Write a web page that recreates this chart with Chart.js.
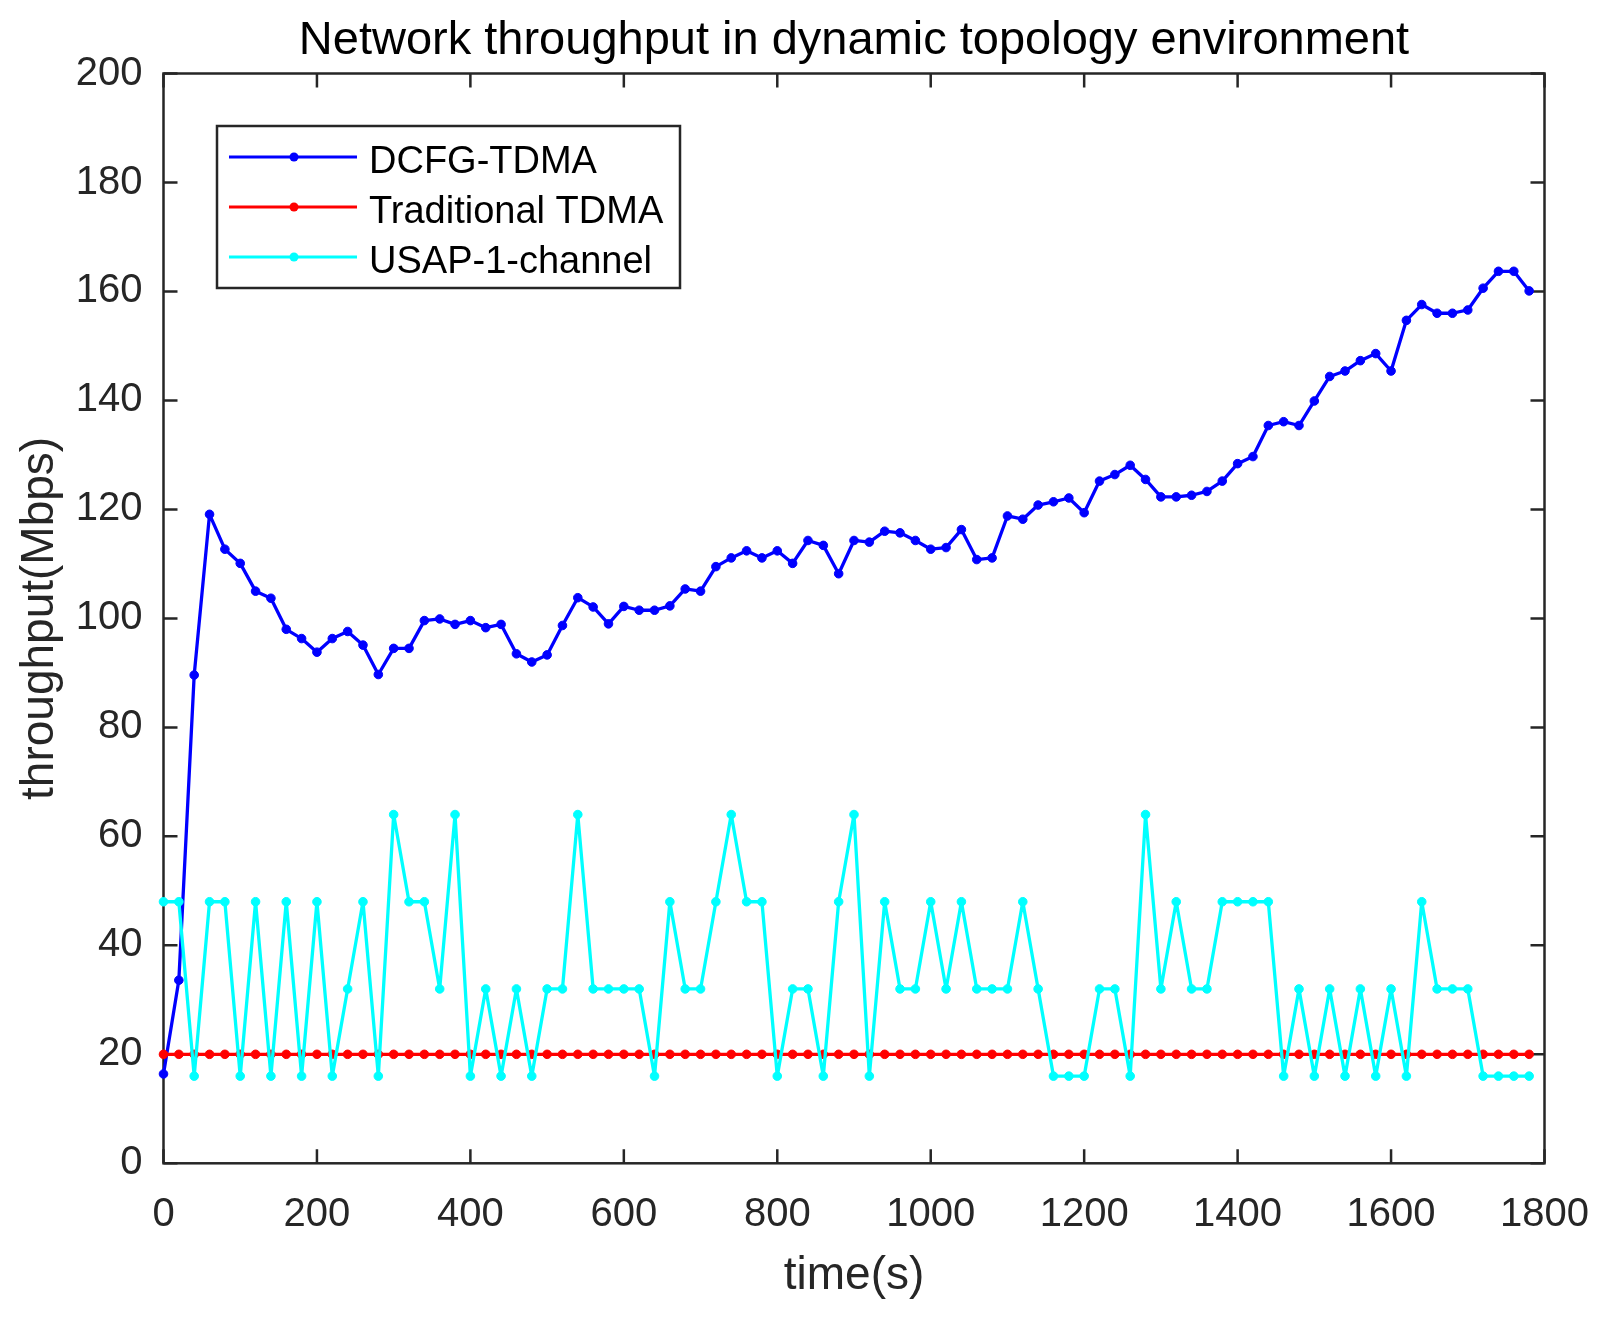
<!DOCTYPE html>
<html lang="en">
<head>
    <meta charset="UTF-8">
    <title>Network throughput in dynamic topology environment</title>
    <script src="https://cdn.jsdelivr.net/npm/chart.js"></script>
    <style>
        html, body { margin: 0; padding: 0; background: #fff; }
        #wrap { width: 1603px; height: 1320px; }
    </style>
</head>
<body>
    <div id="wrap"><canvas id="myChart" width="1603" height="1320"></canvas></div>

    <script>
        const times = [
            0, 20, 40, 60, 80, 100, 120, 140, 160, 180,
            200, 220, 240, 260, 280, 300, 320, 340, 360, 380,
            400, 420, 440, 460, 480, 500, 520, 540, 560, 580,
            600, 620, 640, 660, 680, 700, 720, 740, 760, 780,
            800, 820, 840, 860, 880, 900, 920, 940, 960, 980,
            1000, 1020, 1040, 1060, 1080, 1100, 1120, 1140, 1160, 1180,
            1200, 1220, 1240, 1260, 1280, 1300, 1320, 1340, 1360, 1380,
            1400, 1420, 1440, 1460, 1480, 1500, 1520, 1540, 1560, 1580,
            1600, 1620, 1640, 1660, 1680, 1700, 1720, 1740, 1760, 1780
        ];

        const dcfgTdma = [
            16.4, 33.6, 89.6, 119.1, 112.7, 110.1, 105.0, 103.7, 98.0, 96.3,
            93.8, 96.3, 97.6, 95.1, 89.7, 94.5, 94.5, 99.6, 99.9, 98.9,
            99.6, 98.3, 98.9, 93.5, 92.0, 93.3, 98.7, 103.8, 102.1, 99.0,
            102.2, 101.5, 101.5, 102.3, 105.4, 105.0, 109.5, 111.1, 112.4, 111.1,
            112.4, 110.1, 114.3, 113.4, 108.2, 114.3, 114.0, 116.0, 115.7, 114.3,
            112.7, 113.0, 116.3, 110.8, 111.1, 118.8, 118.2, 120.8, 121.4, 122.1,
            119.4, 125.2, 126.4, 128.1, 125.5, 122.3, 122.3, 122.6, 123.3, 125.2,
            128.4, 129.7, 135.4, 136.1, 135.4, 139.9, 144.4, 145.4, 147.3, 148.6,
            145.4, 154.7, 157.6, 156.0, 156.0, 156.6, 160.6, 163.7, 163.7, 160.1
        ];

        const traditionalTdma = [
            20, 20, 20, 20, 20, 20, 20, 20, 20, 20,
            20, 20, 20, 20, 20, 20, 20, 20, 20, 20,
            20, 20, 20, 20, 20, 20, 20, 20, 20, 20,
            20, 20, 20, 20, 20, 20, 20, 20, 20, 20,
            20, 20, 20, 20, 20, 20, 20, 20, 20, 20,
            20, 20, 20, 20, 20, 20, 20, 20, 20, 20,
            20, 20, 20, 20, 20, 20, 20, 20, 20, 20,
            20, 20, 20, 20, 20, 20, 20, 20, 20, 20,
            20, 20, 20, 20, 20, 20, 20, 20, 20, 20
        ];

        const usap1Channel = [
            48, 48, 16, 48, 48, 16, 48, 16, 48, 16,
            48, 16, 32, 48, 16, 64, 48, 48, 32, 64,
            16, 32, 16, 32, 16, 32, 32, 64, 32, 32,
            32, 32, 16, 48, 32, 32, 48, 64, 48, 48,
            16, 32, 32, 16, 48, 64, 16, 48, 32, 32,
            48, 32, 48, 32, 32, 32, 48, 32, 16, 16,
            16, 32, 32, 16, 64, 32, 48, 32, 32, 48,
            48, 48, 48, 16, 32, 16, 32, 16, 32, 16,
            32, 16, 48, 32, 32, 32, 16, 16, 16, 16
        ];

        const seriesNames = ['DCFG-TDMA', 'Traditional TDMA', 'USAP-1-channel'];
        const seriesColors = ['#0000ff', '#ff0000', '#00ffff'];
        const xTicks = [0, 200, 400, 600, 800, 1000, 1200, 1400, 1600, 1800];
        const yTicks = [0, 20, 40, 60, 80, 100, 120, 140, 160, 180, 200];

        const FONT = '"Liberation Sans", Arial, Helvetica, sans-serif';
        const AXIS_COLOR = '#262626';

        function toPoints(values) {
            return values.map((v, i) => ({ x: times[i], y: v }));
        }

        function makeDataset(idx, values) {
            return {
                label: seriesNames[idx],
                data: toPoints(values),
                borderColor: seriesColors[idx],
                backgroundColor: seriesColors[idx],
                pointBackgroundColor: seriesColors[idx],
                pointBorderColor: seriesColors[idx],
                borderWidth: 3.3,
                borderJoinStyle: 'round',
                pointRadius: 4.3,
                pointBorderWidth: 1,
                tension: 0,
                clip: false,
                order: 3 - idx // later series drawn on top, like MATLAB
            };
        }

        // box around the plot area with inward ticks on all four sides
        const boxPlugin = {
            id: 'boxPlugin',
            beforeDatasetsDraw(chart) {
                const { ctx, chartArea: a, scales } = chart;
                const len = 14;
                ctx.save();
                ctx.strokeStyle = AXIS_COLOR;
                ctx.lineWidth = 2.5;
                ctx.strokeRect(a.left, a.top, a.right - a.left, a.bottom - a.top);
                ctx.beginPath();
                xTicks.forEach(v => {
                    const px = scales.x.getPixelForValue(v);
                    ctx.moveTo(px, a.bottom); ctx.lineTo(px, a.bottom - len);
                    ctx.moveTo(px, a.top); ctx.lineTo(px, a.top + len);
                });
                yTicks.forEach(v => {
                    const py = scales.y.getPixelForValue(v);
                    ctx.moveTo(a.left, py); ctx.lineTo(a.left + len, py);
                    ctx.moveTo(a.right, py); ctx.lineTo(a.right - len, py);
                });
                ctx.stroke();
                ctx.restore();
            }
        };

        // MATLAB-like legend box in the upper left of the axes
        const legendPlugin = {
            id: 'boxLegend',
            afterDraw(chart) {
                const { ctx } = chart;
                const box = { x: 217, y: 126, w: 463, h: 162 };
                ctx.save();
                ctx.fillStyle = '#ffffff';
                ctx.fillRect(box.x, box.y, box.w, box.h);
                ctx.strokeStyle = AXIS_COLOR;
                ctx.lineWidth = 2.5;
                ctx.strokeRect(box.x, box.y, box.w, box.h);
                ctx.font = '38px ' + FONT;
                ctx.textBaseline = 'alphabetic';
                ctx.textAlign = 'left';
                chart.data.datasets.forEach((ds, i) => {
                    const rowY = 157 + i * 50;
                    ctx.strokeStyle = ds.borderColor;
                    ctx.lineWidth = 3;
                    ctx.beginPath();
                    ctx.moveTo(229, rowY);
                    ctx.lineTo(357, rowY);
                    ctx.stroke();
                    ctx.fillStyle = ds.borderColor;
                    ctx.beginPath();
                    ctx.arc(294, rowY, 4.5, 0, Math.PI * 2);
                    ctx.fill();
                    ctx.fillStyle = '#000000';
                    ctx.fillText(ds.label, 369, rowY + 16);
                });
                ctx.restore();
            }
        };

        const ctx = document.getElementById('myChart').getContext('2d');
        const chart = new Chart(ctx, {
            type: 'line',
            data: {
                datasets: [
                    makeDataset(0, dcfgTdma),
                    makeDataset(1, traditionalTdma),
                    makeDataset(2, usap1Channel)
                ]
            },
            options: {
                responsive: false,
                devicePixelRatio: 1,
                animation: false,
                layout: { padding: { top: 0, left: 0, right: 58.5, bottom: 0 } },
                plugins: {
                    legend: { display: false },
                    tooltip: { enabled: false },
                    title: {
                        display: true,
                        fullSize: false,
                        text: 'Network throughput in dynamic topology environment',
                        color: '#000000',
                        font: { family: FONT, size: 47, weight: 'normal' },
                        padding: { top: 12.5, bottom: 4.6 }
                    }
                },
                scales: {
                    x: {
                        type: 'linear',
                        min: 0,
                        max: 1800,
                        afterBuildTicks: scale => { scale.ticks = xTicks.map(v => ({ value: v })); },
                        afterFit: scale => {
                            scale.height = 156.7;
                            scale.paddingLeft = 0;
                            scale.paddingRight = 0;
                        },
                        grid: { display: false },
                        border: { display: false },
                        ticks: {
                            color: AXIS_COLOR,
                            font: { family: FONT, size: 40 },
                            padding: 20,
                            maxRotation: 0,
                            callback: v => String(v)
                        },
                        title: {
                            display: true,
                            text: 'time(s)',
                            color: AXIS_COLOR,
                            font: { family: FONT, size: 46 },
                            padding: { top: 0, bottom: 16 }
                        }
                    },
                    y: {
                        min: 0,
                        max: 200,
                        afterBuildTicks: scale => { scale.ticks = yTicks.map(v => ({ value: v })); },
                        afterFit: scale => {
                            scale.width = 163.5;
                            scale.paddingTop = 0;
                            scale.paddingBottom = 0;
                        },
                        grid: { display: false },
                        border: { display: false },
                        ticks: {
                            color: AXIS_COLOR,
                            font: { family: FONT, size: 40 },
                            padding: 13,
                            callback: v => String(v)
                        },
                        title: {
                            display: true,
                            text: 'throughput(Mbps)',
                            color: AXIS_COLOR,
                            font: { family: FONT, size: 46 },
                            padding: { top: 13, bottom: 0 }
                        }
                    }
                }
            },
            plugins: [boxPlugin, legendPlugin]
        });
    </script>
</body>
</html>
